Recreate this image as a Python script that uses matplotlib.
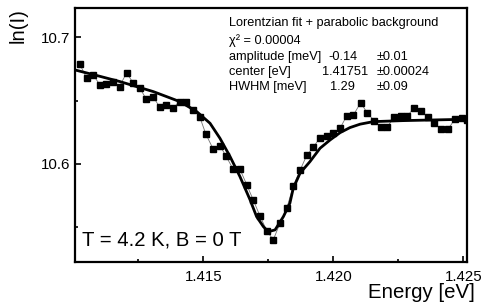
import numpy as np
import matplotlib
matplotlib.use('Agg')
import matplotlib.pyplot as plt
from matplotlib.ticker import MultipleLocator

plt.rcParams['font.family'] = ['Liberation Sans', 'DejaVu Sans']

# measured points (energy in eV, ln of intensity)
energy = [1.41025, 1.41052, 1.41077, 1.41102, 1.41127, 1.41153, 1.41178, 1.41205,
          1.41230, 1.41255, 1.41281, 1.41307, 1.41332, 1.41358, 1.41383, 1.41409,
          1.41435, 1.41460, 1.41486, 1.41510, 1.41538, 1.41564, 1.41587, 1.41615,
          1.41641, 1.41667, 1.41692, 1.41718, 1.41744, 1.41769, 1.41795, 1.41821,
          1.41846, 1.41872, 1.41898, 1.41923, 1.41949, 1.41975, 1.42000, 1.42026,
          1.42052, 1.42077, 1.42105, 1.42131, 1.42157, 1.42182, 1.42208, 1.42233,
          1.42259, 1.42285, 1.42310, 1.42336, 1.42362, 1.42387, 1.42415, 1.42441,
          1.42467, 1.42495, 1.42513]
ln_i = [10.6788, 10.6677, 10.6703, 10.6626, 10.6630, 10.6648, 10.6611, 10.6719,
        10.6642, 10.6603, 10.6511, 10.6532, 10.6450, 10.6468, 10.6440, 10.6492,
        10.6492, 10.6429, 10.6374, 10.6235, 10.6118, 10.6145, 10.6063, 10.5958,
        10.5958, 10.5836, 10.5716, 10.5589, 10.5473, 10.5400, 10.5532, 10.5650,
        10.5826, 10.5950, 10.6069, 10.6132, 10.6208, 10.6221, 10.6242, 10.6282,
        10.6382, 10.6385, 10.6484, 10.6400, 10.6342, 10.6292, 10.6292, 10.6371,
        10.6379, 10.6379, 10.6442, 10.6421, 10.6369, 10.6321, 10.6274, 10.6274,
        10.6353, 10.6366, 10.6348]

# fit curve
fit_e = [1.41007, 1.41093, 1.41180, 1.41308, 1.41410, 1.41475, 1.41526, 1.41564,
         1.41603, 1.41641, 1.41680, 1.41705, 1.41731, 1.41750, 1.41776, 1.41808,
         1.41833, 1.41846, 1.41872, 1.41910, 1.41949, 1.41988, 1.42026, 1.42064,
         1.42103, 1.42154, 1.42268, 1.42514]
fit_y = [10.6742, 10.6697, 10.6650, 10.6571, 10.6492, 10.6413, 10.6321, 10.6203,
         10.6058, 10.5900, 10.5716, 10.5584, 10.5505, 10.5465, 10.5479, 10.5584,
         10.5690, 10.5808, 10.5927, 10.6018, 10.6124, 10.6190, 10.6247, 10.6287,
         10.6314, 10.6334, 10.6342, 10.6353]

fig = plt.figure(figsize=(4.84, 3.07), dpi=100)
ax = fig.add_axes([0.155, 0.1476, 0.8105, 0.8254])

ax.plot(energy, ln_i, '-', color='0.45', lw=0.6)
ax.plot(energy, ln_i, 's', color='black', ms=4.3, mec='black')
ax.plot(fit_e, fit_y, '-', color='black', lw=2.0)

ax.set_xlim(1.41007, 1.42515)
ax.set_ylim(10.5228, 10.7229)
ax.xaxis.set_major_locator(MultipleLocator(0.005))
ax.xaxis.set_minor_locator(MultipleLocator(0.0025))
ax.yaxis.set_major_locator(MultipleLocator(0.1))
ax.yaxis.set_minor_locator(MultipleLocator(0.05))
ax.xaxis.set_major_formatter(plt.FormatStrFormatter('%.3f'))
ax.yaxis.set_major_formatter(plt.FormatStrFormatter('%.1f'))
ax.tick_params(which='both', direction='in', width=1.2, labelsize=10.8)
ax.tick_params(which='major', length=4)
ax.tick_params(which='minor', length=2.5)
ax.tick_params(axis='x', pad=6)
for s in ax.spines.values():
    s.set_linewidth(1.6)

fig.text(475 / 484, 1 - 293 / 307, 'Energy [eV]', ha='right', va='center', fontsize=14.7)
fig.text(18 / 484, 1 - 8 / 307, 'ln(I)', ha='center', va='top', rotation=90, fontsize=14.6)

fs = 9.2
def ftext(x, y, s):
    fig.text(x / 484, 1 - y / 307, s, ha='left', va='center', fontsize=fs)

ftext(229, 23, 'Lorentzian fit + parabolic background')
ftext(229, 41, 'χ² = 0.00004')
ftext(229, 57, 'amplitude [meV]')
ftext(328, 57, '-0.14')
ftext(377, 57, '±0.01')
ftext(229, 72, 'center [eV]')
ftext(322, 72, '1.41751')
ftext(377, 72, '±0.00024')
ftext(229, 87, 'HWHM [meV]')
ftext(330, 87, '1.29')
ftext(377, 87, '±0.09')

fig.text(82 / 484, 1 - 240 / 307, 'T = 4.2 K, B = 0 T', ha='left', va='center', fontsize=14.6)

fig.savefig('out.png', dpi=100)
